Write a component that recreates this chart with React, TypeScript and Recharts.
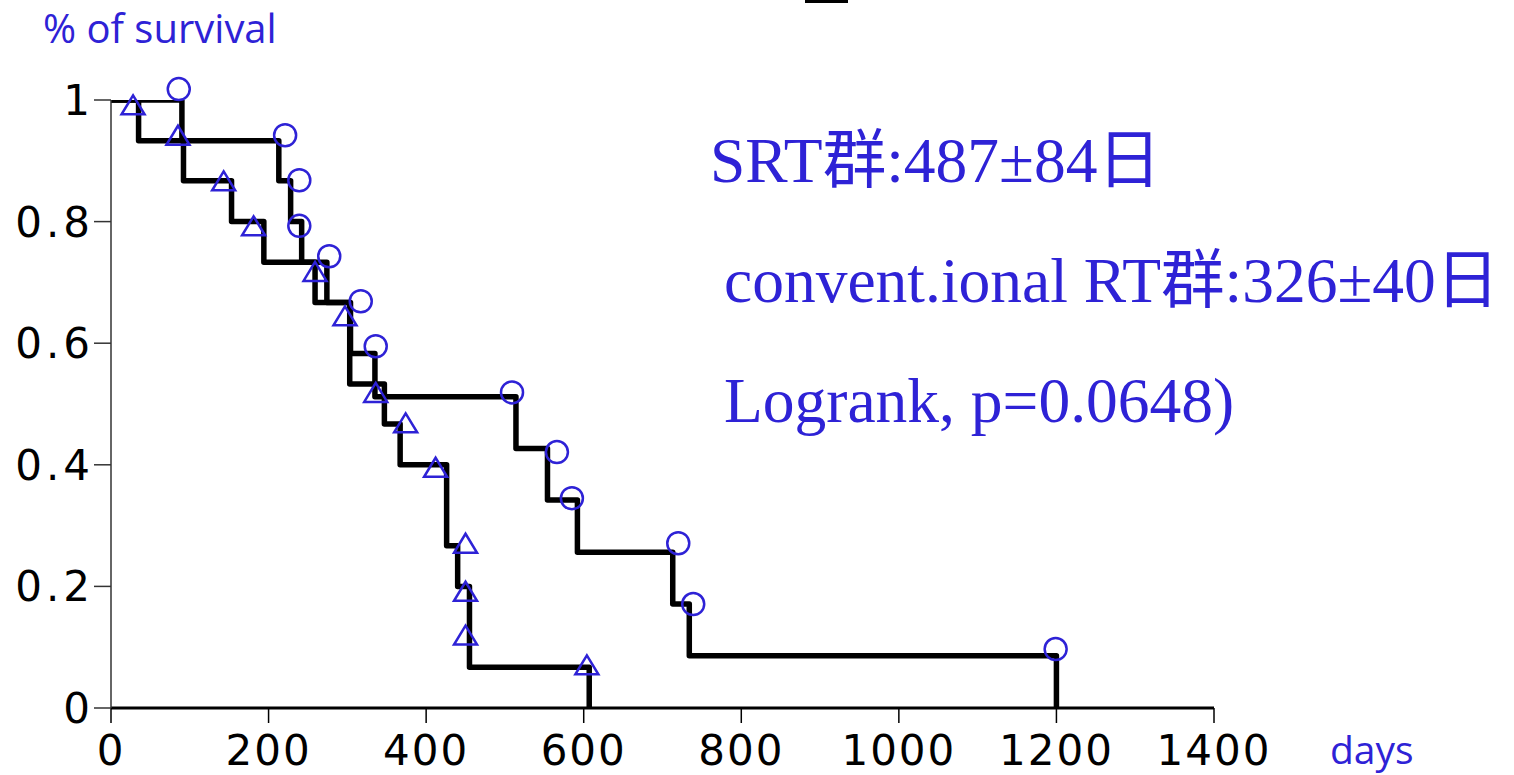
import { ComposedChart, Line, Scatter, XAxis, YAxis } from 'recharts'

// Kaplan-Meier steps (day, survival after the drop)
const srtDays = [0, 90, 213, 228, 242, 274, 304, 335, 514, 554, 592, 713, 734, 1200]
const srtSurv = [1, 0.933, 0.867, 0.8, 0.733, 0.667, 0.583, 0.512, 0.427, 0.342, 0.256, 0.171, 0.086, 0]

const convDays = [0, 35, 92, 153, 194, 259, 303, 347, 367, 426, 440, 455, 607]
const convSurv = [1, 0.933, 0.867, 0.8, 0.733, 0.667, 0.533, 0.467, 0.4, 0.267, 0.2, 0.067, 0]

// marker positions (circles = SRT, triangles = conventional RT)
const srtMarkDays = [86, 221, 239, 239, 277, 317, 336, 509, 566, 585, 720, 739, 1199]
const srtMarkSurv = [1.018, 0.942, 0.868, 0.793, 0.743, 0.669, 0.595, 0.519, 0.421, 0.345, 0.271, 0.171, 0.097]

const convMarkDays = [28, 85, 143, 181, 259, 297, 336, 374, 412, 450, 450, 450, 604]
const convMarkSurv = [0.992, 0.942, 0.867, 0.793, 0.718, 0.645, 0.519, 0.469, 0.396, 0.271, 0.192, 0.12, 0.071]

const xTicks = [0, 200, 400, 600, 800, 1000, 1200, 1400]
const yTicks = [0, 0.2, 0.4, 0.6, 0.8, 1]

const srtData = srtDays.map((d, i) => ({ day: d, s: srtSurv[i] }))
const convData = convDays.map((d, i) => ({ day: d, s: convSurv[i] }))
const srtMarks = srtMarkDays.map((d, i) => ({ day: d, s: srtMarkSurv[i] }))
const convMarks = convMarkDays.map((d, i) => ({ day: d, s: convMarkSurv[i] }))

const BLUE = '#2e22d6'

const CircleMark = (props: any) => (
  <circle cx={props.cx} cy={props.cy} r={11} fill='none' stroke={BLUE} strokeWidth={2.5} />
)

const TriangleMark = (props: any) => {
  const { cx, cy } = props
  return (
    <polygon
      points={`${cx},${cy - 9.5} ${cx - 11.5},${cy + 9.5} ${cx + 11.5},${cy + 9.5}`}
      fill='none'
      stroke={BLUE}
      strokeWidth={2.5}
    />
  )
}

const xTickFont = { fontFamily: '"DejaVu Sans", sans-serif', fontSize: 42, fill: '#000', letterSpacing: 2 }
const yTickFont = { fontFamily: '"DejaVu Sans", sans-serif', fontSize: 42, fill: '#000', letterSpacing: 4 }
const noteStyle: any = {
  position: 'absolute',
  fontFamily: '"Liberation Serif", "Noto Sans CJK JP", serif',
  fontSize: 63.5,
  color: BLUE,
  whiteSpace: 'nowrap',
  lineHeight: 1.2,
}
const axisTitle: any = {
  position: 'absolute',
  fontFamily: '"Open Sans", sans-serif',
  color: BLUE,
  lineHeight: 1.2,
  whiteSpace: 'nowrap',
}

export default function App() {
  return (
    <div style={{ position: 'absolute', left: 0, top: 0, width: 1514, height: 775, background: '#fff', overflow: 'hidden' }}>
      <style>{'.recharts-scatter{clip-path:none}'}</style>
      <ComposedChart width={1514} height={775} margin={{ top: 100, right: 300, bottom: 0, left: 0 }}>
        <XAxis
          dataKey='day'
          type='number'
          domain={[0, 1400]}
          ticks={xTicks}
          height={67}
          tickSize={15}
          tickMargin={12}
          axisLine={{ stroke: '#000', strokeWidth: 3 }}
          tickLine={{ stroke: '#000', strokeWidth: 1.5 }}
          tick={xTickFont}
          allowDataOverflow
        />
        <YAxis
          type='number'
          domain={[0, 1]}
          ticks={yTicks}
          width={111}
          tickSize={17}
          tickMargin={0}
          axisLine={{ stroke: '#333', strokeWidth: 1.5 }}
          tickLine={{ stroke: '#333', strokeWidth: 1.5 }}
          tick={yTickFont}
          allowDataOverflow
        />
        <Line
          data={convData}
          dataKey='s'
          type='stepAfter'
          stroke='#000'
          strokeWidth={5.5}
          strokeLinejoin='round'
          dot={false}
          isAnimationActive={false}
        />
        <Line
          data={srtData}
          dataKey='s'
          type='stepAfter'
          stroke='#000'
          strokeWidth={5.5}
          strokeLinejoin='round'
          dot={false}
          isAnimationActive={false}
        />
        <Scatter data={convMarks} dataKey='s' shape={TriangleMark} isAnimationActive={false} />
        <Scatter data={srtMarks} dataKey='s' shape={CircleMark} isAnimationActive={false} />
      </ComposedChart>

      <div style={{ position: 'absolute', left: 805, top: 0, width: 43, height: 3, background: '#000' }} />

      <div style={{ ...axisTitle, left: 43, top: 4, fontSize: 40 }}>% of survival</div>
      <div style={{ ...axisTitle, left: 1330, top: 726, fontSize: 39 }}>days</div>

      <div style={{ ...noteStyle, left: 710, top: 123 }}>SRT群:487±84日</div>
      <div style={{ ...noteStyle, left: 724, top: 243 }}>convent.ional RT群:326±40日</div>
      <div style={{ ...noteStyle, left: 724, top: 363 }}>Logrank, p=0.0648)</div>
    </div>
  )
}
